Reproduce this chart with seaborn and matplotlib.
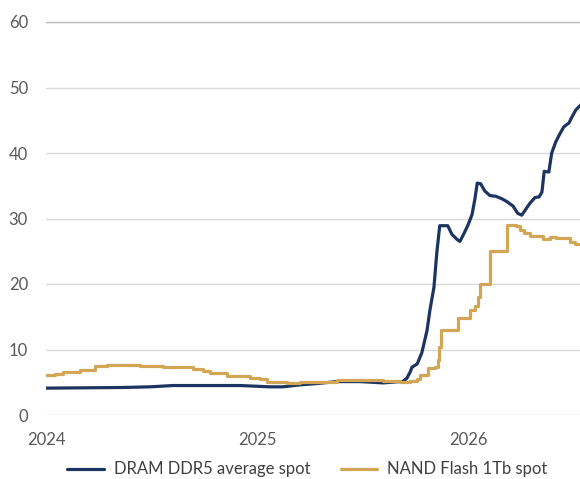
import matplotlib
matplotlib.use("Agg")
import matplotlib.pyplot as plt
import seaborn as sns
import pandas as pd

# DRAM DDR5 average spot price (USD)
dram_dates = [
    "2024-01-01", "2024-05-13", "2024-06-29", "2024-08-08", "2024-12-02",
    "2025-01-23", "2025-02-14", "2025-03-16", "2025-04-14", "2025-05-19",
    "2025-06-28", "2025-08-07", "2025-09-05", "2025-09-10", "2025-09-17",
    "2025-09-23", "2025-09-26", "2025-10-05", "2025-10-13", "2025-10-22",
    "2025-10-27", "2025-11-03", "2025-11-08", "2025-11-13", "2025-11-27",
    "2025-12-04", "2025-12-13", "2025-12-18", "2025-12-25", "2026-01-01",
    "2026-01-08", "2026-01-13", "2026-01-17", "2026-01-23", "2026-01-30",
    "2026-02-08", "2026-02-18", "2026-03-01", "2026-03-09", "2026-03-20",
    "2026-03-28", "2026-04-04", "2026-04-11", "2026-04-18", "2026-04-27",
    "2026-05-04", "2026-05-09", "2026-05-13", "2026-05-21", "2026-05-26",
    "2026-06-02", "2026-06-09", "2026-06-16", "2026-06-25", "2026-06-30",
    "2026-07-07", "2026-07-16",
]
dram_values = [
    4.1, 4.2, 4.3, 4.5, 4.5,
    4.3, 4.3, 4.6, 4.8, 5.1,
    5.1, 4.9, 5.1, 5.1, 5.6,
    6.6, 7.3, 7.8, 9.5, 12.9,
    16.0, 19.5, 24.8, 28.9, 28.9,
    27.6, 26.8, 26.5, 27.7, 29.0,
    30.6, 33.0, 35.4, 35.3, 34.2,
    33.5, 33.4, 33.0, 32.6, 31.9,
    30.8, 30.5, 31.4, 32.3, 33.2,
    33.3, 34.0, 37.2, 37.1, 40.0,
    41.7, 42.9, 44.0, 44.6, 45.5,
    46.6, 47.4,
]

# NAND Flash 1Tb spot price (USD), step-like series
nand_dates = [
    "2024-01-01", "2024-01-16", "2024-01-30", "2024-02-29", "2024-03-26",
    "2024-04-15", "2024-05-13", "2024-06-12", "2024-07-22", "2024-08-20",
    "2024-09-11", "2024-09-29", "2024-10-11", "2024-11-09", "2024-12-02",
    "2024-12-19", "2025-01-06", "2025-01-18", "2025-02-21", "2025-03-16",
    "2025-04-14", "2025-05-19", "2025-08-07", "2025-09-05", "2025-09-23",
    "2025-10-05", "2025-10-10", "2025-10-24", "2025-11-05", "2025-11-10",
    "2025-11-12", "2025-11-15", "2025-12-14", "2026-01-04", "2026-01-13",
    "2026-01-18", "2026-01-22", "2026-02-08", "2026-03-09", "2026-03-25",
    "2026-04-01", "2026-04-08", "2026-04-18", "2026-05-11", "2026-05-23",
    "2026-06-02", "2026-06-14", "2026-06-26", "2026-07-05", "2026-07-16",
]
nand_values = [
    6.1, 6.3, 6.6, 6.9, 7.5,
    7.6, 7.7, 7.5, 7.4, 7.3,
    7.0, 6.7, 6.4, 6.0, 5.9,
    5.6, 5.5, 5.1, 4.9, 5.0,
    5.1, 5.3, 5.2, 5.1, 5.2,
    5.5, 6.1, 7.1, 7.3, 8.4,
    10.4, 13.0, 14.8, 16.0, 16.6,
    18.0, 20.0, 25.0, 29.0, 28.8,
    28.3, 27.8, 27.4, 26.8, 27.2,
    27.0, 27.0, 26.4, 26.1, 26.0,
]

y_ticks = [0, 10, 20, 30, 40, 50, 60]
x_tick_dates = ["2024-01-01", "2025-01-01", "2026-01-01"]
x_tick_labels = ["2024", "2025", "2026"]

dram = pd.DataFrame({"date": pd.to_datetime(dram_dates), "price": dram_values})
nand = pd.DataFrame({"date": pd.to_datetime(nand_dates), "price": nand_values})

sns.set_style("white")
plt.rcParams["font.family"] = ["Lato", "DejaVu Sans"]

fig = plt.figure(figsize=(5.8, 4.79), dpi=100)
ax = fig.add_axes([46 / 580, 1 - 415 / 479, 1 - 46 / 580, (415 - 22) / 479])

navy = "#1c3560"
gold = "#d2a654"

sns.lineplot(data=dram, x="date", y="price", ax=ax, color=navy, linewidth=2.3,
             label="DRAM DDR5 average spot")
sns.lineplot(data=nand, x="date", y="price", ax=ax, color=gold, linewidth=2.3,
             label="NAND Flash 1Tb spot", drawstyle="steps-post")

ax.set_ylim(0, 60)
ax.set_xlim(pd.Timestamp("2024-01-01"), pd.Timestamp("2026-07-14"))
ax.set_yticks(y_ticks)
ax.set_xticks(pd.to_datetime(x_tick_dates))
ax.set_xticklabels(x_tick_labels)
ax.set_xlabel("")
ax.set_ylabel("")

ax.grid(axis="y", color="#d9d9d9", linewidth=1)
ax.set_axisbelow(True)
for s in ax.spines.values():
    s.set_visible(False)
ax.spines["top"].set_visible(True)
ax.spines["top"].set_color("#bdbdbd")
ax.spines["top"].set_linewidth(1)
ax.tick_params(axis="both", length=0, labelsize=12, labelcolor="#595959")
ax.tick_params(axis="y", pad=13)
ax.tick_params(axis="x", pad=12)

ax.get_legend().remove()
handles, labels = ax.get_legend_handles_labels()
fig.legend(handles, labels, loc="lower center", bbox_to_anchor=(0.53, -0.028),
           ncol=2, frameon=False, fontsize=12, handlelength=2.2,
           handletextpad=0.6, columnspacing=1.8, labelcolor="#404040")

fig.savefig("out.png", dpi=100)
